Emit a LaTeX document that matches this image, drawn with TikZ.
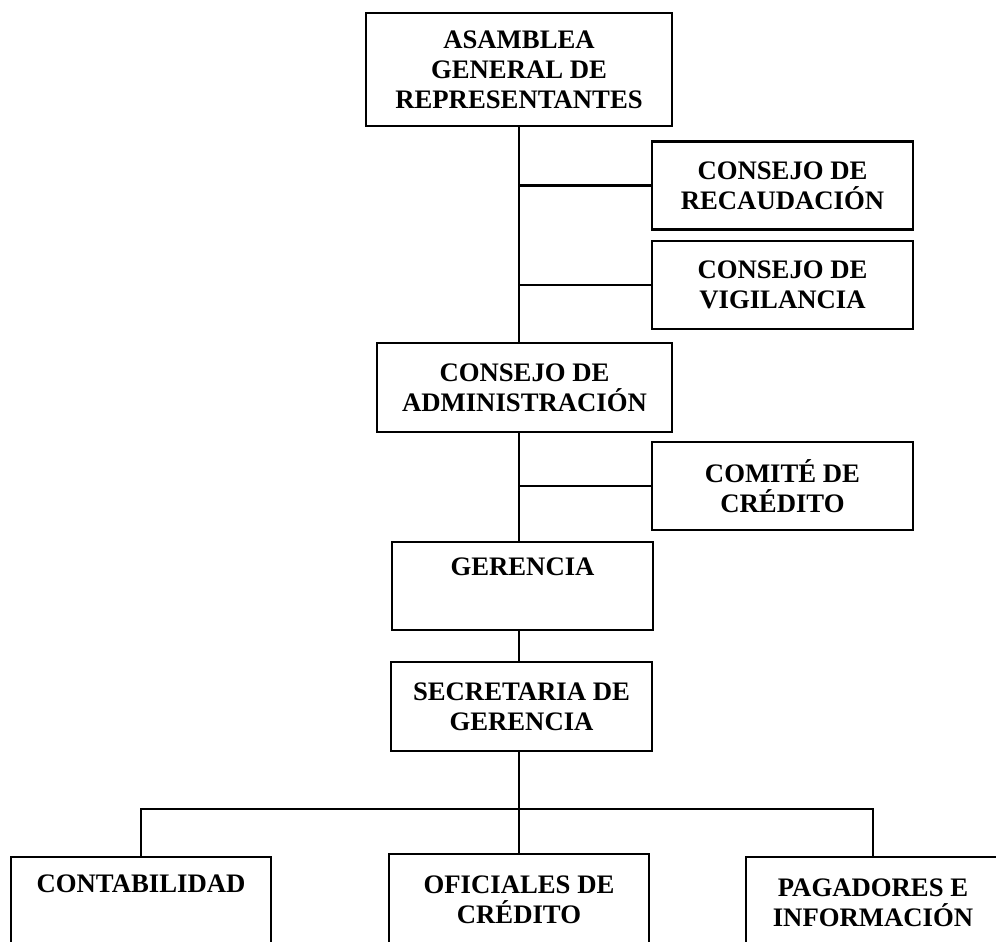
\documentclass[tikz,border=0pt]{standalone}
\usepackage{fontspec}
\setmainfont{Liberation Serif}
\usetikzlibrary{positioning,calc}

\begin{document}
\begin{tikzpicture}[x=1cm,y=1cm,
    caja/.style={draw=black,line width=1.6pt,align=center,inner sep=0pt,
      minimum width=5.22cm,minimum height=1.76cm,
      font=\fontsize{15.2}{17}\selectfont\bfseries},
    enlace/.style={draw=black,line width=1.6pt}]
  \clip (0,0) rectangle (19.92,-18.82);
  \fill[white] (0,0) rectangle (19.92,-18.82);
  % columna central
  \node[caja,minimum width=6.12cm,minimum height=2.26cm] (asamblea) at (10.38,-1.39)
       {ASAMBLEA\\GENERAL DE\\REPRESENTANTES};
  \node[caja,minimum width=5.9cm,minimum height=1.78cm] (admin) at (10.49,-7.75)
       {CONSEJO DE\\ADMINISTRACIÓN};
  \node[caja] (gerencia) at (10.45,-11.72) {GERENCIA\\\strut};
  \node[caja,minimum height=1.78cm] (secret) at (10.43,-14.13) {SECRETARIA DE\\GERENCIA};
  \draw[enlace] (asamblea.south) -- (asamblea.south |- admin.north);
  \draw[enlace] (asamblea.south |- admin.south) -- (asamblea.south |- gerencia.north);
  \draw[enlace] (asamblea.south |- gerencia.south) -- (asamblea.south |- secret.north);
  % organos de apoyo
  \foreach \nm/\y/\txt in {recaud/-3.71/{CONSEJO DE\\RECAUDACIÓN},
                           vigil/-5.70/{CONSEJO DE\\VIGILANCIA},
                           comite/-9.72/{COMITÉ DE\\CRÉDITO}} {
    \node[caja] (\nm) at (15.65,\y) {\txt};
    \draw[enlace] (\nm.west) -- (\nm.west -| asamblea.south);
  }
  % dependencias
  \node[caja,minimum width=5.2cm,minimum height=1.84cm] (conta) at (2.82,-18.06) {CONTABILIDAD\\\strut};
  \node[caja,minimum width=5.2cm,minimum height=1.84cm] (oficial) at (10.38,-18.0) {OFICIALES DE\\CRÉDITO};
  \node[caja,minimum width=5.08cm,minimum height=1.84cm] (pagad) at (17.46,-18.06) {PAGADORES E\\INFORMACIÓN};
  \coordinate (bus) at (10.38,-16.18);
  \draw[enlace] (asamblea.south |- secret.south) -- (oficial.north);
  \draw[enlace] (conta.north) |- (bus) -| (pagad.north);
\end{tikzpicture}
\end{document}
